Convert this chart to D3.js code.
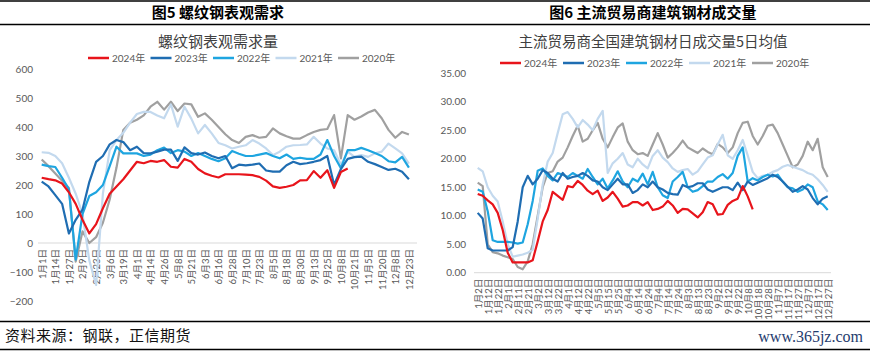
<!DOCTYPE html>
<html>
<head>
<meta charset="utf-8">
<script src="https://cdn.jsdelivr.net/npm/d3@7/dist/d3.min.js"></script>
<style>
    body { margin: 0; background: #fff; }
    svg text { font-family: "Noto Sans CJK SC", sans-serif; }
    .tick text { fill: #595959; font-family: Lato, "Noto Sans CJK SC", sans-serif; }
</style>
</head>
<body>
<svg id="chart" width="870" height="351"></svg>
<script>
// ---- data: figure 5 (weekly, every 2nd week labelled) ----
const weekTicks = ['1月1日','1月14日','1月27日','2月9日','2月23日','3月6日','3月19日','4月1日','4月14日','4月26日',
    '5月8日','5月21日','6月3日','6月16日','6月28日','7月10日','7月23日','8月5日','8月18日','8月30日',
    '9月13日','9月25日','10月8日','10月21日','11月5日','11月20日','12月8日','12月23日'];
const demandYTicks = [-200, -100, 0, 100, 200, 300, 400, 500, 600];
const demand2024 = [225,220,216,205,175,135,80,33,65,120,170,195,220,250,280,275,283,280,286,263,260,290,280,255,240,
    232,226,237,237,237,236,234,228,215,195,190,194,200,216,217,248,225,251,190,245,257];
const demand2023 = [212,195,165,135,33,80,115,210,280,300,340,355,348,320,332,310,309,315,322,322,283,330,310,305,312,
    300,292,300,258,270,268,270,274,250,246,246,268,280,272,275,280,286,300,200,255,290,296,298,280,272,262,252,256,246,220];
const demand2022 = [270,265,262,225,185,-57,100,162,175,200,265,332,309,309,309,300,305,320,329,310,320,315,300,310,300,
    290,282,292,317,308,300,300,305,310,300,292,305,290,294,290,290,305,355,300,258,320,320,328,320,310,300,282,278,297,260];
const demand2021 = [313,311,300,275,225,170,100,-60,-145,170,320,355,380,415,445,452,452,440,430,478,401,470,429,378,407,
    378,345,337,326,332,337,355,343,326,303,315,332,337,338,340,366,343,326,320,270,315,297,303,297,309,315,343,326,309,274];
const demand2020 = [288,265,240,215,190,-64,40,0,20,70,150,260,390,415,425,440,470,487,460,487,455,481,478,435,447,
    425,400,375,355,345,366,372,363,366,395,378,368,360,360,372,383,390,393,441,292,441,425,436,450,459,430,390,363,383,374];

// ---- data: figure 6 (5-day average, one value every half label step) ----
const dayTicks = ['1月2日','1月12日','1月22日','2月1日','2月11日','2月21日','3月2日','3月12日','3月22日','4月1日',
    '4月12日','4月22日','5月5日','5月15日','5月25日','6月4日','6月14日','6月24日','7月4日','7月14日','7月24日',
    '8月3日','8月13日','8月23日','9月2日','9月12日','9月22日','10月8日','10月18日','10月28日','11月7日','11月17日',
    '11月27日','12月7日','12月17日','12月27日'];
const volumeYTicks = [0, 5, 10, 15, 20, 25, 30, 35];
const volume2024 = [13.8,13.5,12.7,12.0,10.5,7.5,3.5,1.8,1.8,1.8,1.8,2.2,5.5,9.0,11.0,14.2,13.5,12.8,15.2,15.0,16.1,15.4,
    14.4,13.8,14.4,12.6,13.2,14.2,13.0,11.6,11.8,12.4,12.4,11.8,12.4,11.0,11.2,11.6,12.6,11.8,10.5,11.2,11.1,10.4,9.7,
    10.6,12.4,12.0,10.2,10.3,11.9,12.6,13.0,15.2,13.4,11.1];
const volume2023 = [10.5,9.5,4.3,3.9,3.9,3.9,3.9,4.5,9.0,15.0,17.0,15.5,16.5,18.0,17.5,16.5,16.0,17.5,16.5,16.8,17.0,17.5,
    17.0,16.2,16.0,15.0,14.5,15.5,16.5,15.5,15.5,14.0,14.5,15.5,15.0,16.0,15.0,14.6,14.0,13.8,13.7,15.4,15.0,15.2,15.7,
    15.7,14.6,14.2,14.6,15.0,15.0,14.5,15.8,14.5,16.0,15.4,15.8,16.2,16.6,17.2,16.8,16.0,15.1,14.2,14.6,15.2,14.6,13.1,
    12.0,13.0,13.4];
const volume2022 = [14.6,14.2,10.8,5.7,5.4,5.4,5.4,5.3,5.1,5.3,8.5,12.6,17.9,18.3,17.0,16.2,17.5,17.2,16.8,17.5,17.0,16.5,
    18.2,16.8,15.5,16.5,14.8,16.2,17.8,16.0,15.0,16.5,16.0,17.4,15.5,17.7,15.0,13.6,13.1,16.0,16.8,17.7,15.0,14.2,14.5,
    15.2,16.0,16.0,16.8,17.3,16.5,17.5,20.5,22.0,16.0,16.6,16.2,16.8,17.2,16.9,17.2,16.0,15.0,14.8,14.2,14.6,15.5,15.0,
    12.5,12.0,11.0];
const volume2021 = [18.4,17.8,15.0,13.5,12.5,9.0,5.0,2.8,3.0,3.2,3.5,4.0,9.5,15.5,19.5,21.0,24.5,27.8,28.2,27.0,25.5,26.8,
    26.0,25.0,27.0,28.4,17.5,19.2,20.0,21.0,19.0,18.5,20.0,19.0,18.3,20.5,21.5,20.2,19.4,18.3,17.7,18.0,18.2,17.2,17.8,
    19.0,20.2,20.6,22.5,24.2,20.6,20.0,21.5,23.3,20.6,17.7,16.6,17.0,17.2,17.7,18.0,18.6,18.9,18.6,18.3,18.0,17.5,17.2,
    16.4,15.4,14.2];
const volume2020 = [15.8,15.2,5.0,3.6,3.4,3.0,2.7,2.4,1.0,0.6,2.0,5.0,10.0,15.0,17.5,17.8,19.5,20.2,22.0,24.0,25.8,23.0,
    23.5,25.0,26.3,23.5,22.0,23.8,25.5,26.2,23.0,21.5,20.8,21.0,20.5,22.5,24.5,22.5,20.2,21.0,22.0,23.2,22.0,21.5,21.0,
    21.8,21.2,20.8,22.6,22.0,21.0,22.0,24.5,26.3,26.5,24.0,22.5,24.0,25.8,26.0,24.5,22.5,20.5,18.5,19.0,20.5,23.0,21.5,
    23.5,18.5,16.8];

const years = ['2024年', '2023年', '2022年', '2021年', '2020年'];
const COLORS = ['#E8141B', '#1F6DB2', '#1EA5E0', '#C3D9EE', '#A0A0A0'];

const svg = d3.select('#chart');

// Frame rules of the report table
[1, 24.5, 321.5, 349.5].forEach(y => {
    svg.append('line')
        .attr('x1', 0).attr('x2', 870)
        .attr('y1', y).attr('y2', y)
        .attr('stroke', '#000')
        .attr('stroke-width', 1.5);
});

/**
 * Draw one panel: header, title, legend, axes and year lines
 */
function drawPanel(p) {
    const g = svg.append('g');

    g.append('text')
        .attr('x', p.cx).attr('y', 18)
        .attr('text-anchor', 'middle')
        .attr('font-size', '15px')
        .attr('font-weight', 'bold')
        .attr('fill', '#000')
        .text(p.header);

    g.append('text')
        .attr('x', p.cx).attr('y', 47)
        .attr('text-anchor', 'middle')
        .attr('font-size', p.titleSize)
        .attr('fill', '#404040')
        .text(p.title);

    // Legend
    const legend = g.append('g').attr('transform', `translate(${p.legendX},${p.legendY})`);
    years.forEach((name, i) => {
        const item = legend.append('g').attr('transform', `translate(${i * p.legendStep},0)`);
        item.append('line')
            .attr('x1', 0).attr('x2', 21)
            .attr('stroke', COLORS[i])
            .attr('stroke-width', 2.5);
        item.append('text')
            .attr('x', 24).attr('y', 3.5)
            .attr('font-size', '10px')
            .attr('fill', '#595959')
            .style('font-family', 'Lato, "Noto Sans CJK SC", sans-serif')
            .text(name);
    });

    const x = d3.scaleLinear().domain(p.xDomain).range(p.xRange);
    const y = d3.scaleLinear().domain(p.yDomain).range(p.yRange);

    // Y axis (labels only)
    const yAxis = d3.axisLeft(y)
        .tickValues(p.yTicks)
        .tickSize(0)
        .tickPadding(0)
        .tickFormat(p.yFormat);
    g.append('g')
        .attr('class', 'axis y-axis')
        .attr('transform', `translate(${p.yLabelX},0)`)
        .call(yAxis)
        .call(a => a.select('.domain').remove())
        .selectAll('text')
        .attr('font-size', '10px');

    // Zero line
    g.append('line')
        .attr('x1', p.axisLine[0]).attr('x2', p.axisLine[1])
        .attr('y1', y(0)).attr('y2', y(0))
        .attr('stroke', '#D9D9D9')
        .attr('stroke-width', 1);

    // X axis labels, rotated
    const xAxis = d3.axisBottom(x)
        .tickValues(p.xTickLabels.map((t, i) => i * p.labelEvery))
        .tickSize(0)
        .tickFormat((d, i) => p.xTickLabels[i]);
    g.append('g')
        .attr('class', 'axis x-axis')
        .attr('transform', `translate(0,${y(0)})`)
        .call(xAxis)
        .call(a => a.select('.domain').remove())
        .selectAll('text')
        .attr('font-size', '9.5px')
        .attr('text-anchor', 'end')
        .attr('dy', '0.35em')
        .attr('transform', 'translate(0,6) rotate(-90)')
        .attr('x', 0).attr('y', 0);

    // Lines, oldest year first so 2024 sits on top
    const line = d3.line()
        .x((d, i) => x(i * p.step))
        .y(d => y(d));
    for (let i = p.series.length - 1; i >= 0; i--) {
        g.append('path')
            .datum(p.series[i])
            .attr('fill', 'none')
            .attr('stroke', COLORS[i])
            .attr('stroke-width', 2.2)
            .attr('stroke-linejoin', 'round')
            .attr('d', line);
    }
}

drawPanel({
    header: '图5 螺纹钢表观需求',
    title: '螺纹钢表观需求量',
    titleSize: '15px',
    cx: 218,
    legendX: 88, legendY: 58, legendStep: 62.5,
    xDomain: [0, 55], xRange: [41.7, 415.7],
    yDomain: [-200, 600], yRange: [301, 69],
    yTicks: demandYTicks, yFormat: d3.format('d'), yLabelX: 33,
    axisLine: [38, 417],
    xTickLabels: weekTicks, labelEvery: 2,
    step: 1,
    series: [demand2024, demand2023, demand2022, demand2021, demand2020]
});

drawPanel({
    header: '图6 主流贸易商建筑钢材成交量',
    title: '主流贸易商全国建筑钢材日成交量5日均值',
    titleSize: '14.5px',
    cx: 653,
    legendX: 500, legendY: 63, legendStep: 63,
    xDomain: [0, 35], xRange: [477.7, 827.7],
    yDomain: [0, 35], yRange: [272.7, 73.3],
    yTicks: volumeYTicks, yFormat: d3.format('.2f'), yLabelX: 466,
    axisLine: [474, 831],
    xTickLabels: dayTicks, labelEvery: 1,
    step: 0.5,
    series: [volume2024, volume2023, volume2022, volume2021, volume2020]
});

// Footer
svg.append('text')
    .attr('x', 5).attr('y', 341)
    .attr('font-size', '15px')
    .attr('letter-spacing', '0.5px')
    .attr('fill', '#111')
    .text('资料来源：钢联，正信期货');

svg.append('text')
    .attr('x', 863).attr('y', 342)
    .attr('text-anchor', 'end')
    .attr('font-size', '16px')
    .style('font-family', '"Liberation Serif", serif')
    .attr('fill', '#1F3C6E')
    .text('www.365jz.com');
</script>
</body>
</html>
